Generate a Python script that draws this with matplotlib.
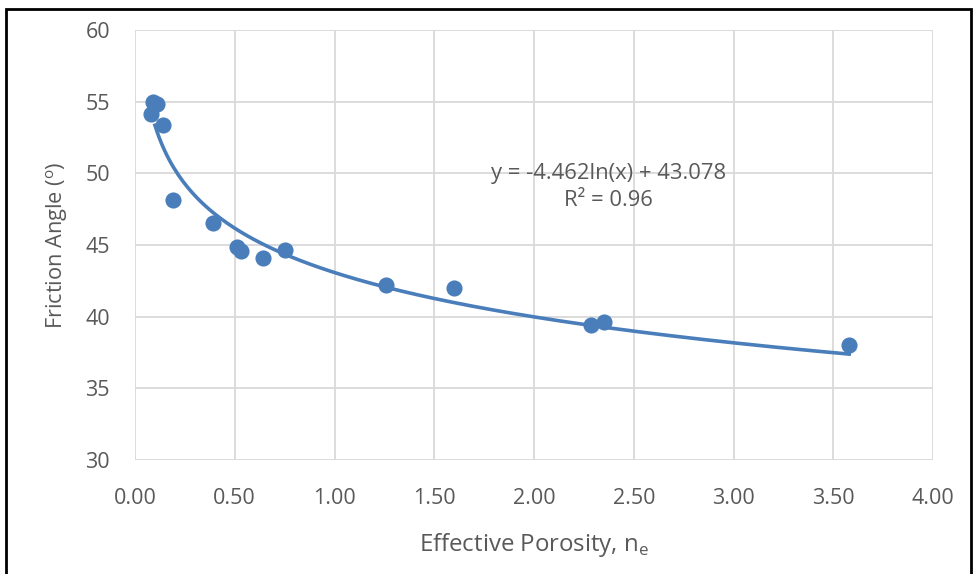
import numpy as np
import matplotlib
matplotlib.use("Agg")
import matplotlib.pyplot as plt
from matplotlib.patches import Rectangle

# Data
porosity = [0.092, 0.112, 0.078, 0.138, 0.19, 0.39, 0.51, 0.53, 0.64, 0.75,
            1.258, 1.60, 2.287, 2.353, 3.58]
friction = [55.0, 54.82, 54.12, 53.35, 48.14, 46.55, 44.88, 44.6, 44.07, 44.63,
            42.2, 41.97, 39.41, 39.6, 38.02]
coef_a = -4.462
coef_b = 43.078
r2 = 0.96
xticks = [0.0, 0.5, 1.0, 1.5, 2.0, 2.5, 3.0, 3.5, 4.0]
yticks = [30, 35, 40, 45, 50, 55, 60]

plt.rcParams['font.family'] = ['Open Sans', 'DejaVu Sans']
plt.rcParams['mathtext.fontset'] = 'custom'
plt.rcParams['mathtext.rm'] = 'Open Sans'
txt = '#595959'
blue = '#4A7EBB'

fig = plt.figure(figsize=(9.76, 5.74), dpi=100)
ax = fig.add_axes([135/976, 1-460/574, (933-135)/976, (460-30)/574])

ax.scatter(porosity, friction, s=135, color=blue, zorder=3, linewidths=0)

xt = np.linspace(0.1, max(porosity), 300)
ax.plot(xt, coef_a*np.log(xt) + coef_b, color=blue, lw=2.6, zorder=2)

ax.set_xlim(0, 4)
ax.set_ylim(30, 60)
ax.set_xticks(xticks)
ax.set_yticks(yticks)
ax.set_xticklabels([f'{v:.2f}' for v in xticks])
ax.tick_params(length=0, labelsize=15.5, colors=txt)
ax.tick_params(axis='x', pad=20)
ax.tick_params(axis='y', pad=18)
ax.grid(True, color='#D9D9D9', lw=1.3)
ax.set_axisbelow(True)
for s in ax.spines.values():
    s.set_visible(False)

ax.set_xlabel(r'Effective Porosity, n$_\mathregular{e}$', fontsize=17.3, color=txt, labelpad=16)
ax.set_ylabel(r'Friction Angle ($^\mathregular{o}$)', fontsize=15.7, color=txt, labelpad=11)

ax.text(2.375, 50.0, f'y = {coef_a}ln(x) + {coef_b}', ha='center', va='center',
        fontsize=15.8, color=txt)
ax.text(2.375, 48.1, f'R² = {r2}', ha='center', va='center', fontsize=15.8, color=txt)

fig.patches.append(Rectangle((6/976, -0.05), (971-6)/976, 1.05-9/574,
                             transform=fig.transFigure, fill=False,
                             edgecolor='black', lw=2))

fig.savefig('out.png', dpi=100)
